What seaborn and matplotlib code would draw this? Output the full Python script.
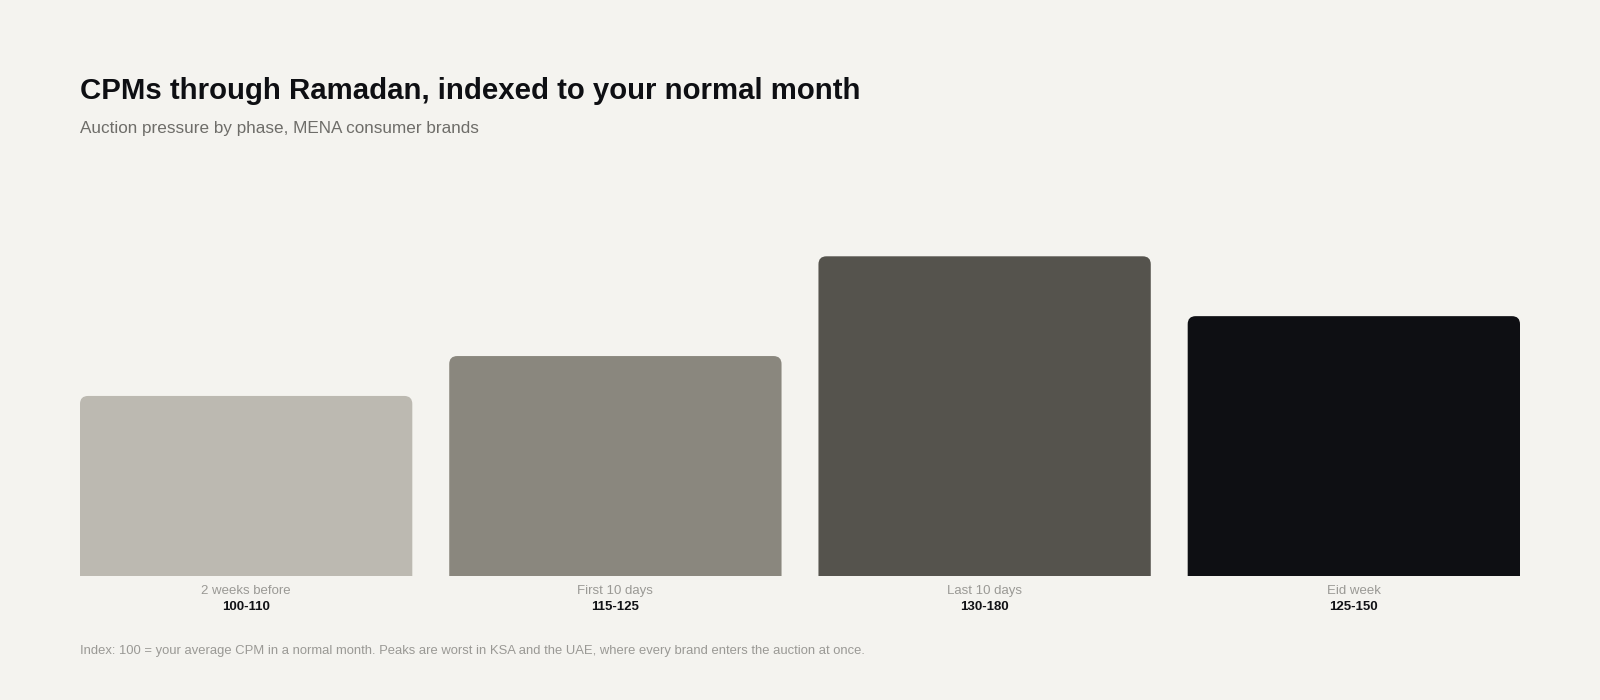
import matplotlib
matplotlib.use("Agg")
import matplotlib.pyplot as plt
from matplotlib.patches import FancyBboxPatch
import seaborn as sns
import pandas as pd

# ---- data ----
phases = ["2 weeks before", "First 10 days", "Last 10 days", "Eid week"]
bar_heights = [45, 55, 80, 65]          # relative bar height on a 0-100 scale
index_ranges = ["100-110", "115-125", "130-180", "125-150"]
bar_colors = ["#BCB9B1", "#8A877E", "#55534D", "#0E0F13"]

title = "CPMs through Ramadan, indexed to your normal month"
subtitle = "Auction pressure by phase, MENA consumer brands"
footnote = ("Index: 100 = your average CPM in a normal month. Peaks are worst in KSA "
            "and the UAE, where every brand enters the auction at once.")

BG = "#F4F3EF"

sns.set_theme(style="white")
plt.rcParams["font.family"] = ["Liberation Sans", "DejaVu Sans"]

W, H, DPI = 16, 7, 100
fig = plt.figure(figsize=(W, H), dpi=DPI, facecolor=BG)
ax = fig.add_axes([80 / 1600, 1 - 575.5 / 700, 1440 / 1600, 399 / 700])
ax.set_facecolor(BG)

df = pd.DataFrame({"phase": phases, "height": bar_heights})
sns.barplot(data=df, x="phase", y="height", hue="phase", palette=bar_colors,
            legend=False, width=0.9, saturation=1, ax=ax)

ax.set_xlim(-0.45, len(phases) - 0.55)
ax.set_ylim(0, 100)

# rounded top corners
ax_w_px = 1440
ax_h_px = 399
x_per_px = (len(phases) - 0.1) / ax_w_px
y_per_px = 100 / ax_h_px
r_px = 8
aspect = y_per_px / x_per_px
for p in list(ax.patches):
    x0, w, h = p.get_x(), p.get_width(), p.get_height()
    fc = p.get_facecolor()
    p.set_visible(False)
    ext = 10
    fb = FancyBboxPatch((x0, -ext), w, h + ext,
                        boxstyle=f"round,pad=0,rounding_size={r_px * x_per_px}",
                        mutation_aspect=aspect, facecolor=fc, edgecolor="none",
                        linewidth=0, clip_on=True)
    ax.add_patch(fb)

# labels under bars
for i, (ph, rg) in enumerate(zip(phases, index_ranges)):
    ax.annotate(ph, xy=(i, 0), xycoords=("data", "axes fraction"),
                xytext=(0, -15.5 * 72 / DPI), textcoords="offset points",
                ha="center", va="center", fontsize=9.5, color="#9A9995")
    ax.annotate(rg, xy=(i, 0), xycoords=("data", "axes fraction"),
                xytext=(0, -31 * 72 / DPI), textcoords="offset points",
                ha="center", va="center", fontsize=9.5, fontweight="bold",
                color="#111216")

ax.set_xlabel("")
ax.set_ylabel("")
ax.set_xticks([])
ax.set_yticks([])
for s in ax.spines.values():
    s.set_visible(False)

fig.text(80 / 1600, 1 - 91 / 700, title, ha="left", va="center",
         fontsize=21.2, fontweight="bold", color="#0E0F13")
fig.text(80 / 1600, 1 - 128.5 / 700, subtitle, ha="left", va="center",
         fontsize=12.3, color="#6E6D69")
fig.text(80 / 1600, 1 - 651 / 700, footnote, ha="left", va="center",
         fontsize=9.4, color="#9A9995")

fig.savefig("out.png", dpi=DPI, facecolor=BG)
